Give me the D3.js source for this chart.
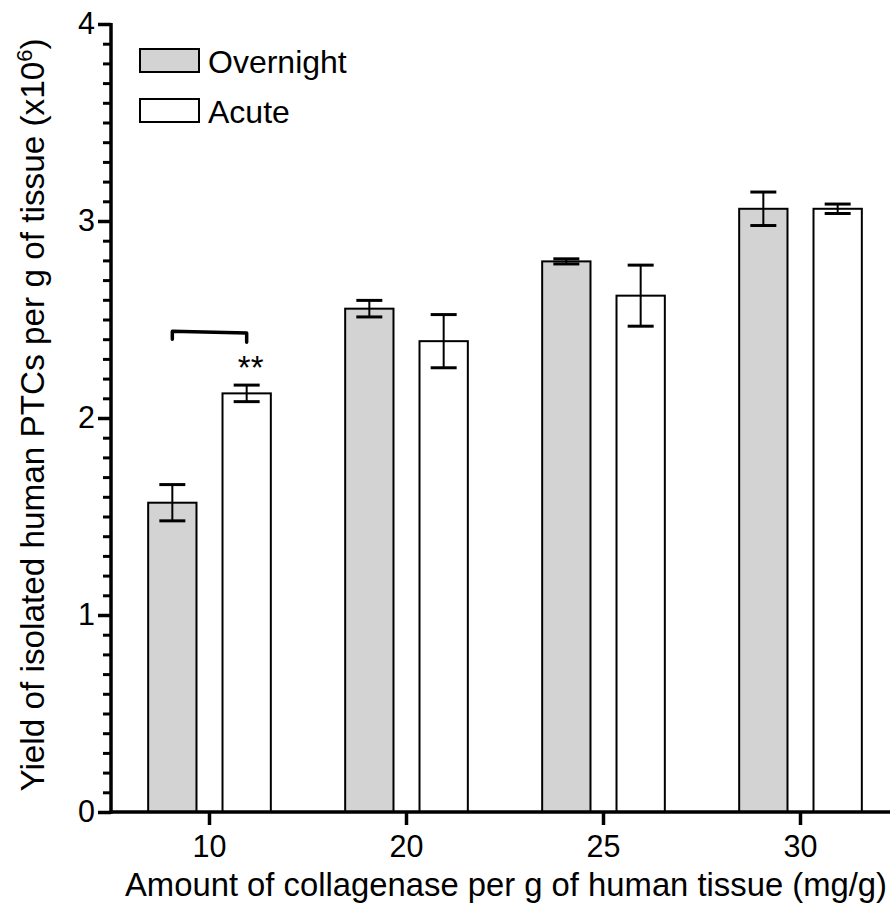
<!DOCTYPE html>
<html>
<head>
<meta charset="utf-8">
<script src="https://cdn.jsdelivr.net/npm/d3@7"></script>
<style>
  html, body { margin: 0; padding: 0; background: #fff; }
  svg { display: block; font-family: "Liberation Sans", Arial, sans-serif; }
</style>
</head>
<body>
<svg id="chart" width="890" height="904"></svg>
<script>
// Collagenase dose (mg/g) per group
const doses = ["10", "20", "25", "30"];
const seriesNames = ["Overnight", "Acute"];
// Mean yield (x10^6 cells per g tissue) and error (SEM)
const overnightMean = [1.57, 2.555, 2.795, 3.062];
const overnightErr  = [0.092, 0.042, 0.013, 0.085];
const acuteMean     = [2.125, 2.39, 2.621, 3.062];
const acuteErr      = [0.042, 0.135, 0.155, 0.024];
const yTicks = [0, 1, 2, 3, 4];

const seriesFill = { Overnight: "#d3d3d3", Acute: "#ffffff" };

const rows = doses.map((d, i) => ({
  dose: d,
  values: [
    { series: "Overnight", mean: overnightMean[i], err: overnightErr[i] },
    { series: "Acute", mean: acuteMean[i], err: acuteErr[i] }
  ]
}));

const svg = d3.select("#chart");
const x0 = 111, yBase = 812;
const FONT = "Liberation Sans, Arial, sans-serif";

const x = d3.scaleBand().domain(doses).range([x0, x0 + 4 * 197]).paddingInner(0).paddingOuter(0);
const xSub = d3.scaleBand().domain(seriesNames).range([0, x.bandwidth()]).paddingInner(0.35).paddingOuter(0.5);
const y = d3.scaleLinear().domain([0, 4]).range([yBase, 24]);

// bars
const groups = svg.append("g").selectAll("g").data(rows).join("g")
  .attr("transform", d => `translate(${x(d.dose)},0)`);

groups.selectAll("rect").data(d => d.values).join("rect")
  .attr("x", d => xSub(d.series))
  .attr("y", d => y(d.mean))
  .attr("width", xSub.bandwidth())
  .attr("height", d => y(0) - y(d.mean))
  .attr("fill", d => seriesFill[d.series])
  .attr("stroke", "#000")
  .attr("stroke-width", 2);

// error bars
const capW = 26;
const eb = groups.selectAll("g.err").data(d => d.values).join("g").attr("class", "err")
  .attr("transform", d => `translate(${xSub(d.series) + xSub.bandwidth() / 2},0)`);
eb.append("line")
  .attr("x1", 0).attr("x2", 0)
  .attr("y1", d => y(d.mean + d.err)).attr("y2", d => y(d.mean - d.err))
  .attr("stroke", "#000").attr("stroke-width", 2);
eb.selectAll("line.cap").data(d => [d.mean + d.err, d.mean - d.err]).join("line")
  .attr("class", "cap")
  .attr("x1", -capW / 2).attr("x2", capW / 2)
  .attr("y1", v => y(v)).attr("y2", v => y(v))
  .attr("stroke", "#000").attr("stroke-width", 3);

// minor y ticks
svg.append("g").attr("transform", `translate(${x0},0)`)
  .call(d3.axisLeft(y).tickValues(d3.range(0, 41).map(v => v / 10)).tickSize(8).tickFormat(""))
  .call(g => g.select(".domain").remove())
  .call(g => g.selectAll("line").attr("stroke-width", 3));

// major y ticks
svg.append("g").attr("transform", `translate(${x0},0)`)
  .call(d3.axisLeft(y).tickValues(yTicks).tickSize(13).tickPadding(3).tickFormat(d3.format("d")))
  .call(g => g.select(".domain").remove())
  .call(g => g.selectAll("line").attr("stroke-width", 3.5))
  .call(g => g.selectAll("text").attr("font-size", 30.5).attr("fill", "#000").attr("font-family", FONT));

// x ticks
svg.append("g").attr("transform", `translate(0,${yBase})`)
  .call(d3.axisBottom(x).tickSize(13).tickPadding(10))
  .call(g => g.select(".domain").remove())
  .call(g => g.selectAll("line").attr("stroke-width", 3.5))
  .call(g => g.selectAll("text").attr("font-size", 30.5).attr("fill", "#000").attr("font-family", FONT));

// axis lines
svg.append("line").attr("x1", x0).attr("x2", x0).attr("y1", y(4) - 1).attr("y2", yBase + 1.75)
  .attr("stroke", "#000").attr("stroke-width", 3.5);
svg.append("line").attr("x1", x0 - 1.75).attr("x2", x0 + 4 * 197).attr("y1", yBase).attr("y2", yBase)
  .attr("stroke", "#000").attr("stroke-width", 3.5);

// significance bracket between Overnight and Acute at 10 mg/g
const bx1 = x("10") + xSub("Overnight") + xSub.bandwidth() / 2;
const bx2 = x("10") + xSub("Acute") + xSub.bandwidth() / 2;
svg.append("path")
  .attr("d", `M${bx1},${y(2.40)} L${bx1},${y(2.44)} L${bx2},${y(2.432)} L${bx2},${y(2.385)}`)
  .attr("fill", "none").attr("stroke", "#000").attr("stroke-width", 3.5)
  .attr("stroke-linejoin", "round").attr("stroke-linecap", "round");
svg.append("text").attr("x", bx2 + 4).attr("y", 379).attr("text-anchor", "middle")
  .attr("font-size", 33).text("**");

// legend
const legend = svg.append("g").selectAll("g").data(seriesNames).join("g")
  .attr("transform", (d, i) => `translate(140,${49 + i * 50})`);
legend.append("rect").attr("width", 59).attr("height", 23)
  .attr("fill", d => seriesFill[d]).attr("stroke", "#000").attr("stroke-width", 2);
legend.append("text").attr("x", 68).attr("y", 23.5).attr("font-size", 32).text(d => d);

// axis titles
svg.append("text").attr("x", 506).attr("y", 896).attr("text-anchor", "middle")
  .attr("font-size", 32.8).text("Amount of collagenase per g of human tissue (mg/g)");

const yt = svg.append("text").attr("transform", "translate(44,415) rotate(-90)")
  .attr("text-anchor", "middle").attr("font-size", 33.3);
yt.append("tspan").text("Yield of isolated human PTCs per g of tissue (x10");
yt.append("tspan").attr("font-size", 22).attr("dy", -12).text("6");
yt.append("tspan").attr("dy", 12).text(")");
</script>
</body>
</html>
